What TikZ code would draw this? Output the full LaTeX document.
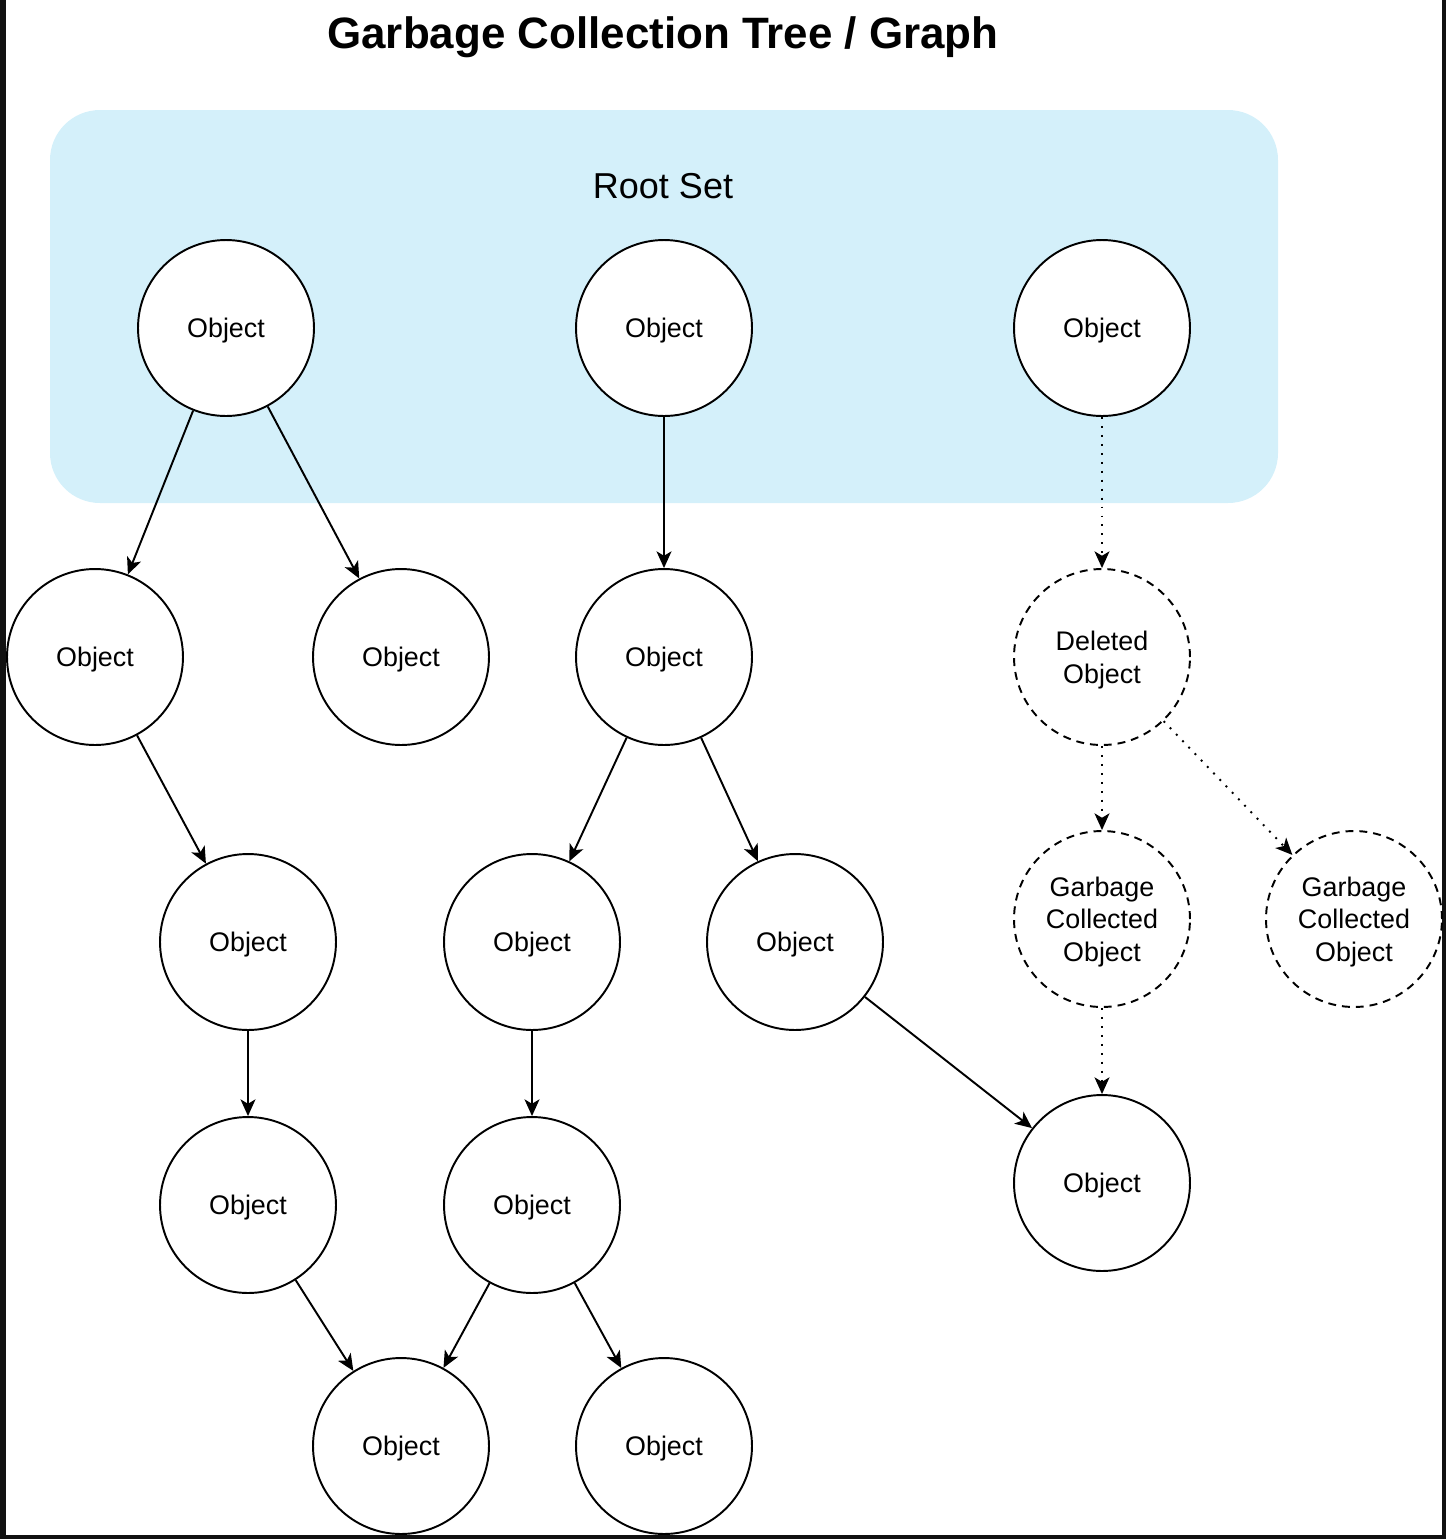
\documentclass[tikz,border=0pt]{standalone}
\usepackage{fontspec}
\setmainfont{Liberation Sans}
\usetikzlibrary{arrows.meta}
\definecolor{rootblue}{RGB}{212,240,250}
\definecolor{edgeblack}{RGB}{17,17,17}

\begin{document}
\begin{tikzpicture}[x=0.02cm,y=-0.02cm,>={Stealth[length=9.5pt,width=8.5pt,inset=2.5pt]},
		obj/.style={draw,circle,minimum size=3.52cm,inner sep=0pt,line width=1.1pt,fill=white,align=center,text depth=0pt,font=\fontsize{15.3}{18.6}\selectfont},
		gone/.style={obj,dash pattern=on 4.5pt off 3.4pt},
		ref/.style={->,line width=1.1pt},
		weak/.style={->,line width=1.1pt,dash pattern=on 1.1pt off 4pt}]
		\useasboundingbox (0,0) rectangle (1446,1539);
		%Frame
		\fill [edgeblack] (0,0) rectangle (6,1539);
		\fill [edgeblack] (1442,0) rectangle (1446,1539);
		\fill [edgeblack] (0,1535) rectangle (1446,1539);
		%Title
		\node (title) [anchor=base,font=\fontsize{25}{30}\selectfont\bfseries] at (663,48) {Garbage Collection Tree / Graph};
		%Root set
		\fill [rootblue,rounded corners=1cm] (50,110) rectangle (1278,503);
		\node (rootset) [anchor=base,font=\fontsize{20.5}{24}\selectfont] at (663,198) {Root Set};
		\node (ra) [obj] at (226,328) {Object};
		\node (rb) [obj] at (664,328) {Object};
		\node (rc) [obj] at (1102,328) {Object};
		%Objects
		\node (la) [obj] at (95,657) {Object};
		\node (lb) [obj] at (401,657) {Object};
		\node (ma) [obj] at (664,657) {Object};
		\node (pa) [obj] at (248,942) {Object};
		\node (sa) [obj] at (532,942) {Object};
		\node (ta) [obj] at (795,942) {Object};
		\node (qa) [obj] at (248,1205) {Object};
		\node (ua) [obj] at (532,1205) {Object};
		\node (wa) [obj] at (1102,1183) {Object};
		\node (xa) [obj] at (401,1446) {Object};
		\node (xb) [obj] at (664,1446) {Object};
		%Garbage
		\node (del) [gone] at (1102,657) {Deleted\\Object};
		\node (gca) [gone] at (1102,919) {Garbage\\Collected\\Object};
		\node (gcb) [gone] at (1354,919) {Garbage\\Collected\\Object};
		%References
		\draw [ref] (ra) -- (la);
		\draw [ref] (ra) -- (lb);
		\draw [ref] (rb) -- (ma);
		\draw [ref] (la) -- (pa);
		\draw [ref] (pa) -- (qa);
		\draw [ref] (qa) -- (xa);
		\draw [ref] (ma) -- (sa);
		\draw [ref] (ma) -- (ta);
		\draw [ref] (sa) -- (ua);
		\draw [ref] (ua) -- (xa);
		\draw [ref] (ua) -- (xb);
		\draw [ref] (ta) -- (wa);
		\draw [weak] (rc) -- (del);
		\draw [weak] (del) -- (gca);
		\draw [weak] (del) -- (gcb);
		\draw [weak] (gca) -- (wa);
	\end{tikzpicture}
\end{document}
